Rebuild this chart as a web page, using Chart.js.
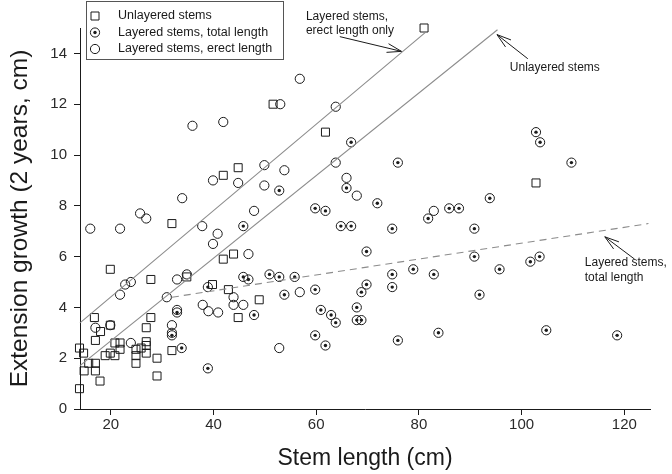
<!DOCTYPE html>
<html>
<head>
<meta charset="utf-8">
<script src="https://cdn.jsdelivr.net/npm/chart.js@4.4.0/dist/chart.umd.min.js"></script>
<style>
  html, body { margin: 0; padding: 0; background: #fff; }
</style>
</head>
<body>
<canvas id="chart" width="672" height="474"></canvas>
<script>
/* ── DATA ── (x = stem length cm, y = extension growth cm) */
const unlayered = [
  [81,15],[51.6,12],[61.8,10.9],[44.8,9.5],[41.9,9.2],[102.8,8.9],[31.9,7.3],[19.9,5.5],
  [27.8,5.1],[34.8,5.2],[39.8,4.9],[43.9,6.1],[41.9,5.9],[42.9,4.7],[48.9,4.3],[44.8,3.6],
  [13.9,2.4],[14.7,2.2],[13.9,0.8],[16.8,3.6],[17,2.7],[18,3.05],[19.9,3.3],[14.8,1.5],
  [15.7,1.8],[17,1.8],[17,1.5],[17.9,1.1],[18.9,2.1],[19.9,2.2],[20.8,2.1],[20.8,2.6],
  [21.8,2.6],[21.8,2.35],[24.9,2.35],[24.9,2.1],[24.9,1.8],[25.9,2.4],[26.9,3.2],[26.9,2.65],
  [26.9,2.5],[26.9,2.2],[27.8,3.6],[29,2],[29,1.3],[31.9,2.3]
];
const layeredTotal = [
  [66.8,10.5],[52.8,8.6],[65.9,8.7],[59.8,7.9],[61.8,7.8],[45.8,7.2],[64.8,7.2],[66.8,7.2],
  [38.9,4.8],[45.8,5.2],[46.8,5.1],[50.9,5.3],[52.8,5.2],[55.8,5.2],[59.8,4.7],[53.8,4.5],
  [47.9,3.7],[32.9,3.8],[31.9,2.9],[33.8,2.4],[38.9,1.6],[60.9,3.9],[62.9,3.7],[63.8,3.4],
  [59.8,2.9],[61.8,2.5],[67.9,4],[67.9,3.5],[68.8,3.5],[75.9,9.7],[71.9,8.1],[93.8,8.3],
  [81.8,7.5],[85.9,7.9],[87.8,7.9],[74.8,7.1],[90.8,7.1],[102.8,10.9],[103.6,10.5],[109.7,9.7],
  [69.8,6.2],[90.8,6],[101.7,5.8],[103.5,6],[95.7,5.5],[78.9,5.5],[74.8,5.3],[82.9,5.3],
  [74.8,4.8],[69.8,4.9],[68.8,4.6],[91.8,4.5],[83.8,3],[75.9,2.7],[104.8,3.1],[118.6,2.9]
];
const layeredErect = [
  [56.8,13],[53,12],[63.8,11.9],[35.9,11.15],[41.9,11.3],[49.9,9.6],[53.8,9.4],[39.9,9],
  [44.8,8.9],[49.9,8.8],[63.8,9.7],[65.9,9.1],[67.9,8.4],[33.9,8.3],[47.9,7.8],[16,7.1],
  [21.8,7.1],[25.7,7.7],[26.9,7.5],[37.8,7.2],[40.8,6.9],[39.9,6.5],[46.8,6.1],[22.8,4.9],
  [23.9,5],[21.8,4.5],[32.9,5.1],[34.8,5.3],[30.9,4.4],[17,3.2],[19.9,3.3],[23.9,2.6],
  [37.9,4.1],[39,3.85],[40.9,3.8],[43.9,4.4],[43.9,4.1],[45.8,4.1],[31.9,3.3],[32.9,3.9],
  [31.9,3],[56.8,4.6],[52.8,2.4],[82.9,7.8]
];
// fitted lines (end points in data units)
const erectFit     = [[14,3.39],[81.5,14.87]];
const unlayeredFit = [[14,1.71],[95.3,14.93]];
const totalFit     = [[31.9,4.4],[124.7,7.3]];

const seriesLabels = ['Unlayered stems','Layered stems, total length','Layered stems, erect length'];
const xTicks = [20,40,60,80,100,120];
const yTicks = [0,2,4,6,8,10,12,14];

// annotation text: [x, y, lines], arrows: [tailX, tailY, tipX, tipY]
const notes = [
  [58.0, 15.45, ['Layered stems,','erect length only']],
  [97.7, 13.44, ['Unlayered stems']],
  [112.3, 5.75, ['Layered stems,','total length']]
];
const arrows = [
  [64.6,14.66,76.6,14.08],
  [101.2,13.79,95.2,14.74],
  [122.0,5.9,116.2,6.78]
];

const INK = '#1a1a1a';
const FONT = "'Liberation Sans', Arial, sans-serif";

const pts = arr => arr.map(([x,y]) => ({x, y}));

// legend symbol helpers (same look as the plotted markers)
function drawMark(ctx, kind, cx, cy) {
  ctx.beginPath();
  if (kind === 0) ctx.rect(cx - 4, cy - 4, 8, 8);
  else ctx.arc(cx, cy, 4.6, 0, Math.PI*2);
  ctx.stroke();
  if (kind === 1) { ctx.beginPath(); ctx.arc(cx, cy, 1.7, 0, Math.PI*2); ctx.fill(); }
}

/* ── legend box + notes drawn by hand ── */
const extras = {
  id: 'extras',
  afterDraw(chart) {
    const {ctx, chartArea: a, scales: {x, y}} = chart;
    ctx.save();
    const lx = a.left + 6.5, ly = 1.5;
    ctx.strokeStyle = '#555'; ctx.lineWidth = 1;
    ctx.strokeRect(lx, ly, 197, 58);
    ctx.font = '12.5px ' + FONT; ctx.fillStyle = INK; ctx.strokeStyle = INK; ctx.textBaseline = 'middle';
    seriesLabels.forEach((t, i) => {
      const cy = 16 + i*16.5;
      drawMark(ctx, i, lx + 8.5, cy);
      ctx.fillText(t, lx + 31.5, cy);
    });
    ctx.font = '12px ' + FONT;
    notes.forEach(([nx, ny, lines]) => {
      lines.forEach((t, i) => ctx.fillText(t, x.getPixelForValue(nx), y.getPixelForValue(ny) + i*14.5));
    });
    ctx.lineWidth = 1;
    arrows.forEach(([x0, y0, x1, y1]) => {
      const px0 = x.getPixelForValue(x0), py0 = y.getPixelForValue(y0);
      const px1 = x.getPixelForValue(x1), py1 = y.getPixelForValue(y1);
      const ang = Math.atan2(py0 - py1, px0 - px1);
      ctx.beginPath();
      ctx.moveTo(px0, py0); ctx.lineTo(px1, py1);
      [-0.3, 0.3].forEach(d => {
        ctx.moveTo(px1, py1);
        ctx.lineTo(px1 + 15*Math.cos(ang + d), py1 + 15*Math.sin(ang + d));
      });
      ctx.stroke();
    });
    ctx.restore();
  }
};

const fitLine = (data, dash) => ({
  type: 'line', data: pts(data), borderColor: '#8c8c8c', borderWidth: 1.1,
  borderDash: dash, pointRadius: 0, fill: false, showLine: true, clip: false
});
const marker = (data, style, radius) => ({
  data: pts(data), pointStyle: style, pointRadius: radius, pointBorderWidth: 1,
  pointBorderColor: INK, pointBackgroundColor: 'rgba(0,0,0,0)', clip: false
});
const dots = data => ({
  data: pts(data), pointStyle: 'circle', pointRadius: 1.7, pointBorderWidth: 0,
  pointBackgroundColor: INK, clip: false
});

new Chart(document.getElementById('chart').getContext('2d'), {
  type: 'scatter',
  data: {
    datasets: [
      fitLine(erectFit, []),
      fitLine(unlayeredFit, []),
      fitLine(totalFit, [7, 5]),
      { label: seriesLabels[0], ...marker(unlayered, 'rect', 5.66) },
      { label: seriesLabels[1], ...marker(layeredTotal, 'circle', 4.6) },
      dots(layeredTotal),
      { label: seriesLabels[2], ...marker(layeredErect, 'circle', 4.6) }
    ]
  },
  options: {
    responsive: false, animation: false,
    layout: { padding: { top: 28, right: 22, left: 0, bottom: 0 } },
    plugins: { legend: { display: false }, tooltip: { enabled: false } },
    scales: {
      x: {
        type: 'linear', min: 14, max: 125,
        afterBuildTicks: s => { s.ticks = xTicks.map(v => ({value: v})); },
        afterFit: s => { s.height = 65; },
        grid: { drawOnChartArea: false, drawTicks: true, tickLength: 6, color: INK },
        border: { color: INK, width: 1 },
        ticks: { color: '#2a2a2a', font: { size: 15, family: FONT }, padding: 1, maxRotation: 0 },
        title: { display: true, text: 'Stem length (cm)', color: INK, font: { size: 23, family: FONT }, padding: { top: 0, bottom: 2 } }
      },
      y: {
        type: 'linear', min: 0, max: 15,
        afterBuildTicks: s => { s.ticks = yTicks.map(v => ({value: v})); },
        afterFit: s => { s.width = 80; },
        grid: { drawOnChartArea: false, drawTicks: true, tickLength: 6, color: INK },
        border: { color: INK, width: 1 },
        ticks: { color: '#2a2a2a', font: { size: 15, family: FONT }, padding: 7 },
        title: { display: true, text: 'Extension growth (2 years, cm)', color: INK, font: { size: 24.5, family: FONT }, padding: { top: 6, bottom: 0 } }
      }
    }
  },
  plugins: [extras]
});
</script>
</body>
</html>
